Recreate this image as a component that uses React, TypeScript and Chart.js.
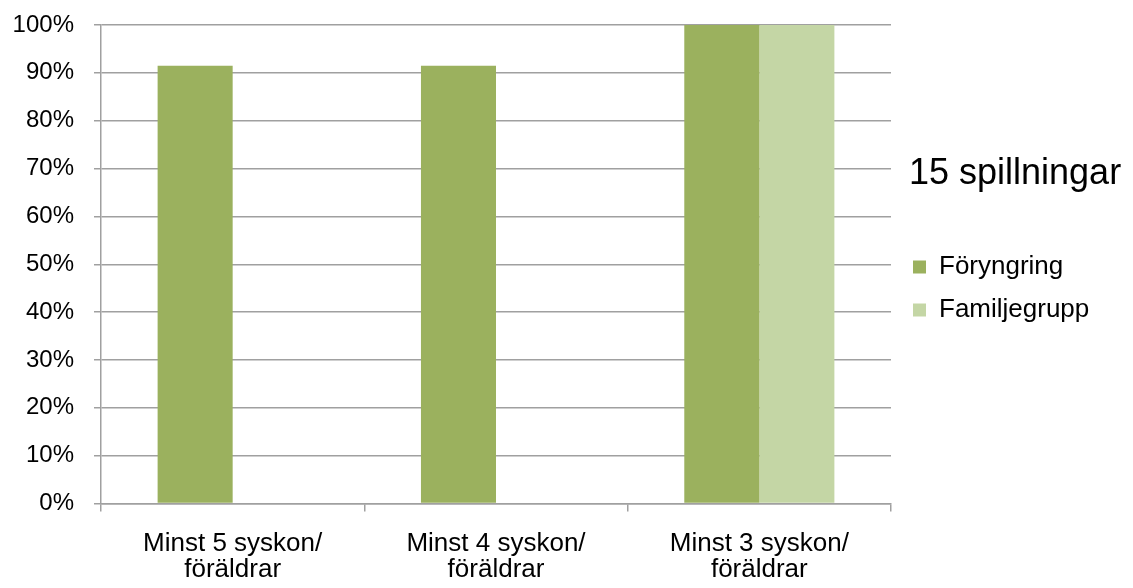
import React, { useEffect, useRef } from "react";
import { Chart, registerables } from "chart.js";

Chart.register(...registerables);

const categories: string[][] = [
  ["Minst 5 syskon/", "föräldrar"],
  ["Minst 4 syskon/", "föräldrar"],
  ["Minst 3 syskon/", "föräldrar"],
];
const foryngring: number[] = [91.5, 91.5, 100];
const familjegrupp: number[] = [0, 0, 100];
const seriesNames: string[] = ["Föryngring", "Familjegrupp"];
const seriesColors: string[] = ["#9BB15E", "#C4D6A5"];
const legendTitle = "15 spillningar";
const yTicks: number[] = [0, 10, 20, 30, 40, 50, 60, 70, 80, 90, 100];

const FONT = "'Liberation Sans', Arial, sans-serif";
const GRID = "#a0a0a0";

// legend box width (keeps the title inside the legend's clip area)
const LEGEND_WIDTH = 224;

const widenLegend = {
  id: "widenLegend",
  beforeLayout(chart: any) {
    const lg = chart.legend;
    if (lg && !lg.__widened) {
      const orig = lg.fit.bind(lg);
      lg.fit = () => {
        orig();
        lg.width = Math.max(lg.width, LEGEND_WIDTH);
      };
      lg.__widened = true;
    }
  },
};

export default function App() {
  const ref = useRef<HTMLCanvasElement | null>(null);

  useEffect(() => {
    if (!ref.current) return;
    const chart = new Chart(ref.current, {
      type: "bar",
      data: {
        labels: categories,
        datasets: [
          {
            label: seriesNames[0],
            data: foryngring,
            backgroundColor: seriesColors[0],
            borderWidth: 0,
            categoryPercentage: 0.57,
            barPercentage: 1,
          },
          {
            label: seriesNames[1],
            data: familjegrupp,
            backgroundColor: seriesColors[1],
            borderWidth: 0,
            categoryPercentage: 0.57,
            barPercentage: 1,
          },
        ],
      },
      plugins: [widenLegend],
      options: {
        responsive: false,
        animation: false,
        layout: { padding: { left: 12.6, top: 25, bottom: 5, right: 0 } },
        scales: {
          x: {
            grid: {
              offset: true,
              drawOnChartArea: false,
              color: GRID,
              lineWidth: 1.5,
              tickLength: 8,
            },
            border: { display: true, color: GRID, width: 1.5 },
            ticks: {
              color: "#000",
              font: { family: FONT, size: 26, lineHeight: 1.0 },
              padding: 19.5,
              maxRotation: 0,
              minRotation: 0,
            },
            afterFit: (s: any) => {
              s.height = 79.5;
              s.paddingLeft = 0;
              s.paddingRight = 0;
            },
          },
          y: {
            min: 0,
            max: 100,
            afterBuildTicks: (s: any) => {
              s.ticks = yTicks.map((v) => ({ value: v }));
            },
            grid: { color: GRID, lineWidth: 1.5, tickLength: 7 },
            border: { display: true, color: GRID, width: 1.5 },
            ticks: {
              color: "#000",
              font: { family: FONT, size: 24 },
              padding: 20,
              callback: (v: any) => v + "%",
            },
            afterFit: (s: any) => {
              s.width = 88.4;
              s.paddingTop = 0;
              s.paddingBottom = 0;
            },
          },
          spacer: {
            type: "linear",
            position: "right",
            display: true,
            grid: { display: false, drawTicks: false },
            border: { display: false },
            ticks: { display: false },
            afterFit: (s: any) => {
              s.width = 18;
            },
          },
        },
        plugins: {
          tooltip: { enabled: false },
          legend: {
            position: "right",
            align: "start",
            title: {
              display: true,
              text: legendTitle,
              position: "start",
              color: "#000",
              font: { family: FONT, size: 36 },
              padding: { top: 131, bottom: 50.8 },
            },
            labels: {
              boxWidth: 13,
              boxHeight: 13,
              padding: 4,
              color: "#000",
              font: { family: FONT, size: 26, lineHeight: 1.5 },
              generateLabels: (c: any) =>
                Chart.defaults.plugins.legend.labels
                  .generateLabels(c)
                  .map((l: any) => ({ ...l, text: [l.text] })),
            },
          },
        },
      },
    } as any);
    return () => chart.destroy();
  }, []);

  return (
    <div style={{ position: "absolute", left: 0, top: 0, width: 1133, height: 588, background: "#fff" }}>
      <canvas ref={ref} width={1133} height={588} />
    </div>
  );
}
